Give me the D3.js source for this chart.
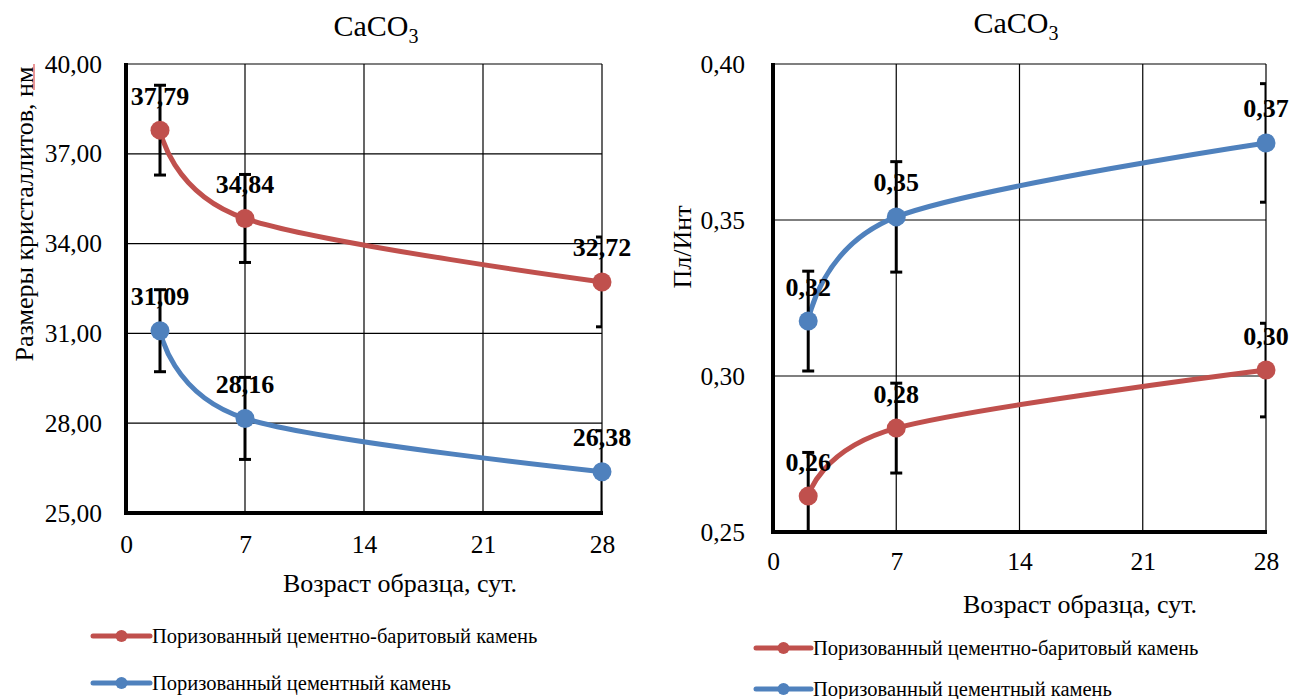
<!DOCTYPE html>
<html>
<head>
<meta charset="utf-8">
<script src="https://cdn.jsdelivr.net/npm/d3@7"></script>
<style>
  html, body { margin: 0; padding: 0; background: #fff; }
  svg { display: block; }
</style>
</head>
<body>
<svg id="chart" width="1304" height="699"></svg>
<script>
// ---------- DATA ----------
const days = [2, 7, 28];
const xTicks = [0, 7, 14, 21, 28];
const seriesNames = ["Поризованный цементно-баритовый камень", "Поризованный цементный камень"];
const seriesColors = ["#C0504D", "#4F81BD"];

// Left chart: crystallite size, nm
const sizeBarite = [37.79, 34.84, 32.72];
const sizeCement = [31.09, 28.16, 26.38];
const sizeBariteErr = [1.5, 1.47, 1.5];
const sizeCementErr = [1.37, 1.37, 1.37];
const sizeTicks = [25, 28, 31, 34, 37, 40];

// Right chart: Пл/Инт ratio
const ratioBarite = [0.2615, 0.2833, 0.3019];
const ratioCement = [0.3176, 0.351, 0.3747];
const ratioBariteErr = [0.014, 0.0144, 0.015];
const ratioCementErr = [0.016, 0.0177, 0.019];
const ratioTicks = [0.25, 0.30, 0.35, 0.40];

const titleMain = "CaCO";
const titleSub = "3";
const xTitle = "Возраст образца, сут.";
const yTitleLeft = "Размеры кристаллитов, нм";
const yTitleRight = "Пл/Инт";

// ---------- DRAW ----------
const FONT = '"Liberation Serif", "Times New Roman", serif';
const svg = d3.select("#chart").style("font-family", FONT);
const fmt = v => d3.format(".2f")(v).replace(".", ",");

function txt(sel, size, weight) {
  return sel.style("font-family", FONT).style("font-size", size + "px")
    .style("font-weight", weight || "normal").attr("fill", "#000");
}

function drawChart(cfg, idx) {
  const g = svg.append("g");
  const x = d3.scaleLinear().domain([0, 28]).range([cfg.left, cfg.right]);
  const y = d3.scaleLinear().domain([cfg.yTicks[0], cfg.yTicks[cfg.yTicks.length - 1]]).range([cfg.bottom, cfg.top]);

  const clipId = "clip" + idx;
  svg.append("defs").append("clipPath").attr("id", clipId)
    .append("rect").attr("x", cfg.left).attr("y", cfg.top)
    .attr("width", cfg.right - cfg.left).attr("height", cfg.bottom - cfg.top);

  // gridlines
  g.append("g").selectAll("line").data(cfg.yTicks.slice(1)).join("line")
    .attr("x1", cfg.left).attr("x2", cfg.right)
    .attr("y1", d => y(d)).attr("y2", d => y(d))
    .attr("stroke", "#000").attr("stroke-width", 1.2);
  g.append("g").selectAll("line").data(xTicks.slice(1)).join("line")
    .attr("x1", d => x(d)).attr("x2", d => x(d))
    .attr("y1", cfg.top).attr("y2", cfg.bottom)
    .attr("stroke", "#000").attr("stroke-width", 1.2);

  // y axis (labels)
  const yAxis = d3.axisLeft(y).tickValues(cfg.yTicks).tickFormat(fmt).tickSize(0).tickPadding(cfg.yPad);
  const ya = g.append("g").attr("transform", `translate(${cfg.left},0)`).call(yAxis).attr("font-family", null);
  ya.select(".domain").remove();
  txt(ya.selectAll("text"), 25.5);

  // x axis (labels)
  const xAxis = d3.axisBottom(x).tickValues(xTicks).tickFormat(d3.format("d")).tickSize(0).tickPadding(cfg.xPad);
  const xa = g.append("g").attr("transform", `translate(0,${cfg.bottom})`).call(xAxis).attr("font-family", null);
  xa.select(".domain").remove();
  txt(xa.selectAll("text"), 25.5);

  // axis lines (thick)
  g.append("line").attr("x1", cfg.left).attr("x2", cfg.left).attr("y1", cfg.top - 1).attr("y2", cfg.bottom + 2)
    .attr("stroke", "#000").attr("stroke-width", 4);
  g.append("line").attr("x1", cfg.left - 2).attr("x2", cfg.right + 1).attr("y1", cfg.bottom).attr("y2", cfg.bottom)
    .attr("stroke", "#000").attr("stroke-width", 4);

  const line = d3.line().x((d, i) => x(days[i])).y(d => y(d)).curve(d3.curveCardinal.tension(0));

  cfg.series.forEach(s => {
    g.append("path").datum(s.values).attr("d", line)
      .attr("fill", "none").attr("stroke", seriesColors[s.color]).attr("stroke-width", 5)
      .attr("stroke-linecap", "round");
  });

  // error bars
  const eb = g.append("g").attr("clip-path", `url(#${clipId})`);
  cfg.series.forEach(s => {
    s.values.forEach((v, i) => {
      const cx = x(days[i]);
      const y1 = y(v + s.err[i]), y2 = y(v - s.err[i]);
      eb.append("line").attr("x1", cx).attr("x2", cx).attr("y1", y1).attr("y2", y2)
        .attr("stroke", "#000").attr("stroke-width", 3);
      [y1, y2].forEach(yy => {
        eb.append("line").attr("x1", cx - 6).attr("x2", cx + 6).attr("y1", yy).attr("y2", yy)
          .attr("stroke", "#000").attr("stroke-width", 3);
      });
    });
  });

  // markers
  cfg.series.forEach(s => {
    g.append("g").selectAll("circle").data(s.values).join("circle")
      .attr("cx", (d, i) => x(days[i])).attr("cy", d => y(d)).attr("r", 9.5)
      .attr("fill", seriesColors[s.color]);
  });

  // data labels
  cfg.series.forEach(s => {
    txt(g.append("g").selectAll("text").data(s.values).join("text")
      .attr("x", (d, i) => x(days[i])).attr("y", d => y(d) - 34)
      .attr("text-anchor", "middle").attr("dominant-baseline", "central"), 26, "bold")
      .text(d => fmt(d));
  });

  // title
  const t = txt(g.append("text").attr("x", cfg.titleX).attr("y", cfg.titleY).attr("text-anchor", "middle"), 30);
  t.append("tspan").text(titleMain);
  t.append("tspan").attr("dy", 7).style("font-size", "20px").text(titleSub);

  // axis titles
  txt(g.append("text").attr("x", cfg.xTitleX).attr("y", cfg.xTitleY).attr("text-anchor", "middle"), 26)
    .text(xTitle);
  txt(g.append("text").attr("transform", `translate(${cfg.yTitleX},${cfg.yTitleY}) rotate(-90)`)
    .attr("text-anchor", "middle").attr("dominant-baseline", "central"), 26).text(cfg.yTitle);

  if (cfg.squiggle) {
    // spell-check underline under "нм" visible in the source image
    g.append("line").attr("x1", cfg.yTitleX + 10).attr("x2", cfg.yTitleX + 10)
      .attr("y1", cfg.squiggle[0]).attr("y2", cfg.squiggle[1])
      .attr("stroke", "#E57373").attr("stroke-width", 1.5);
  }

  // legend
  cfg.series.forEach((s, si) => {
    const ly = cfg.legendY[si];
    const lg = g.append("g");
    lg.append("line").attr("x1", cfg.legendX1).attr("x2", cfg.legendX2).attr("y1", ly).attr("y2", ly)
      .attr("stroke", seriesColors[s.color]).attr("stroke-width", 5).attr("stroke-linecap", "round");
    lg.append("circle").attr("cx", (cfg.legendX1 + cfg.legendX2) / 2).attr("cy", ly).attr("r", 6)
      .attr("fill", seriesColors[s.color]);
    txt(lg.append("text").attr("x", cfg.legendX2 + 2).attr("y", ly).attr("dominant-baseline", "central"), 20.5)
      .text(seriesNames[s.color]);
  });
}

drawChart({
  left: 126, right: 602, top: 64, bottom: 513,
  yTicks: sizeTicks, xPad: 22, yPad: 24,
  series: [
    { values: sizeBarite, err: sizeBariteErr, color: 0 },
    { values: sizeCement, err: sizeCementErr, color: 1 }
  ],
  titleX: 376, titleY: 36,
  xTitleX: 400, xTitleY: 592,
  yTitleX: 24, yTitleY: 214, yTitle: yTitleLeft, squiggle: [64, 90],
  legendX1: 93, legendX2: 150, legendY: [636, 683]
}, 0);

drawChart({
  left: 773, right: 1266, top: 64, bottom: 532,
  yTicks: ratioTicks, xPad: 20, yPad: 28,
  series: [
    { values: ratioBarite, err: ratioBariteErr, color: 0 },
    { values: ratioCement, err: ratioCementErr, color: 1 }
  ],
  titleX: 1016, titleY: 33,
  xTitleX: 1080, xTitleY: 613,
  yTitleX: 682, yTitleY: 247, yTitle: yTitleRight,
  legendX1: 756, legendX2: 811, legendY: [648, 689]
}, 1);
</script>
</body>
</html>
